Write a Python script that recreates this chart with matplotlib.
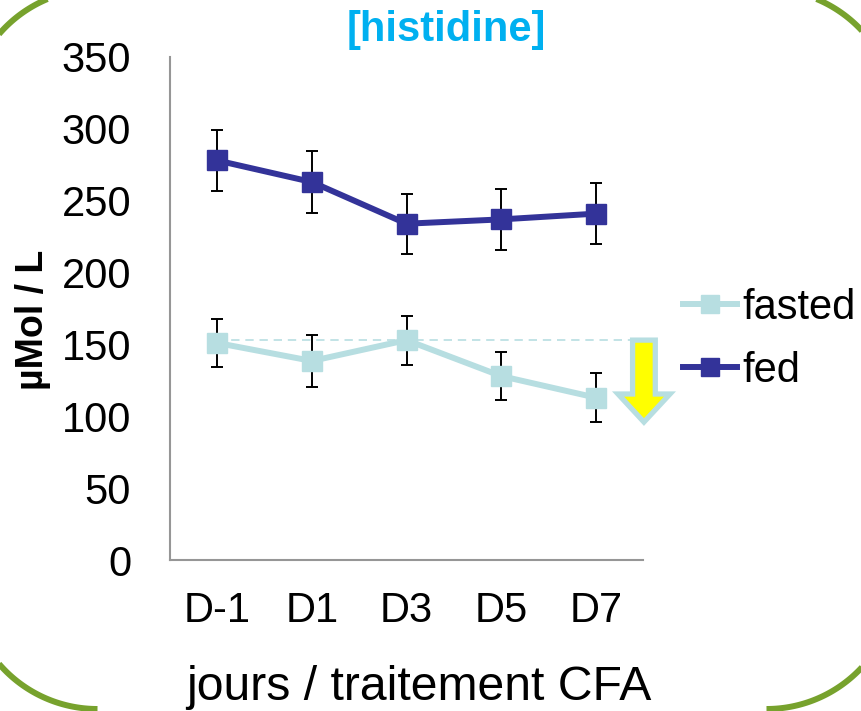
import numpy as np
import matplotlib.pyplot as plt
from matplotlib.patches import Polygon

# --- Data ---
days = ["D-1", "D1", "D3", "D5", "D7"]
fasted = [151, 138.5, 153, 128, 113]
fasted_err = [17, 18, 17, 17, 17]
fed = [278, 263, 234, 237, 241]
fed_err = [21, 21.5, 21, 21, 21]

FASTED_COLOR = "#B7DEE1"
FED_COLOR = "#333399"
TITLE_COLOR = "#00B0F0"
BORDER_COLOR = "#77A22D"

plt.rcParams['font.family'] = ['Liberation Sans', 'DejaVu Sans']

W, H = 861, 711
fig = plt.figure(figsize=(W / 100, H / 100), dpi=100)

# background layer in pixel units for the rounded frame
bg = fig.add_axes([0, 0, 1, 1], zorder=0)
bg.set_xlim(0, W)
bg.set_ylim(H, 0)
bg.axis('off')

R = 130
corners = [  # (centre x, centre y, start angle, end angle), y grows downward
    (97.5, 119, 180, 270),
    (766.5, 119, 270, 360),
    (766.5, 579, 0, 90),
    (97.5, 579, 90, 180),
]
for cx, cy, a0, a1 in corners:
    t = np.radians(np.linspace(a0, a1, 100))
    bg.plot(cx + R * np.cos(t), cy + R * np.sin(t), color=BORDER_COLOR,
            lw=4.3, solid_capstyle='butt')

ax = fig.add_axes([170 / W, 1 - 560 / H, (643 - 170) / W, (560 - 57) / H], zorder=1)
ax.patch.set_alpha(0)
x = np.arange(len(days))

ax.errorbar(x, fasted, yerr=fasted_err, fmt='none', ecolor='black',
            elinewidth=1.4, capsize=4.3, capthick=1.4, zorder=2)
ax.errorbar(x, fed, yerr=fed_err, fmt='none', ecolor='black',
            elinewidth=1.4, capsize=4.3, capthick=1.4, zorder=2)
h_fasted, = ax.plot(x, fasted, color=FASTED_COLOR, lw=4.3, marker='s',
                    ms=15, zorder=3, label="fasted")
h_fed, = ax.plot(x, fed, color=FED_COLOR, lw=4.3, marker='s',
                 ms=15, zorder=3, label="fed")

# reference level and the downward arrow
ref = max(fasted)
ax.plot([0, 4.45], [ref, ref], color=FASTED_COLOR, lw=1.2,
        linestyle=(0, (5, 3.5)), zorder=1, clip_on=False)
arrow = Polygon([(4.39, ref), (4.63, ref), (4.63, 115.5), (4.785, 115.5),
                 (4.51, 96), (4.236, 115.5), (4.39, 115.5)],
                closed=True, facecolor="#FFFF00", edgecolor=FASTED_COLOR,
                linewidth=3.8, joinstyle='miter', clip_on=False, zorder=4)
ax.add_patch(arrow)

ax.set_xlim(-0.5, 4.5)
ax.set_ylim(0, 350)
ax.set_yticks(np.arange(0, 351, 50))
ax.set_xticks(x)
ax.set_xticklabels(days)
ax.tick_params(axis='both', length=0, labelsize=30)
ax.tick_params(axis='y', pad=28)
ax.tick_params(axis='x', pad=22)
for side in ['top', 'right']:
    ax.spines[side].set_visible(False)
for side in ['left', 'bottom']:
    ax.spines[side].set_color('#969696')
    ax.spines[side].set_linewidth(1.5)

fig.text(446 / W, 1 - 41 / H, "[histidine]", ha='center', va='baseline',
         fontsize=30, fontweight='bold', color=TITLE_COLOR)
fig.text(33 / W, 1 - 320 / H, "µMol / L", rotation=90, ha='center',
         va='center', fontsize=27, fontweight='bold')
fig.text(419 / W, 1 - 700 / H, "jours / traitement CFA", ha='center',
         va='baseline', fontsize=34.7)

fig.legend(handles=[h_fasted, h_fed], loc='upper left',
           bbox_to_anchor=(683 / W, 1 - 288 / H), frameon=False,
           fontsize=30, handlelength=1.3, handletextpad=0.12,
           labelspacing=0.55, borderpad=0, borderaxespad=0, markerscale=0.9)

fig.savefig("out.png", dpi=100)
